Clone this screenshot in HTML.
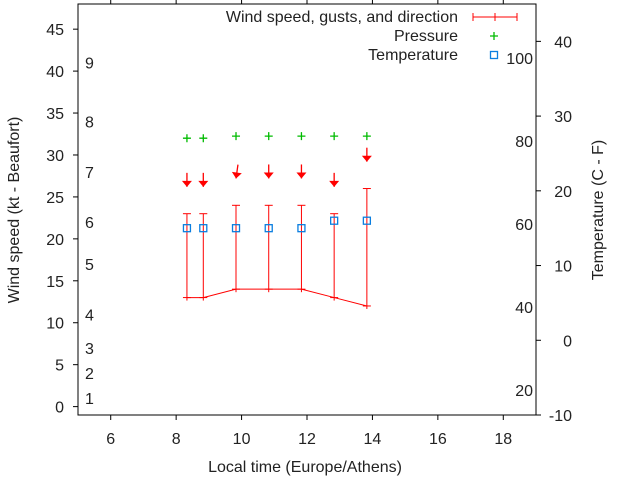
<!DOCTYPE html>
<html><head><meta charset="utf-8"><style>
body{margin:0;background:#fff}
svg{display:block;font-family:"Liberation Sans",sans-serif;font-size:16px;fill:#000}
</style></head><body>
<svg id="c" width="640" height="480" viewBox="0 0 640 480" xmlns="http://www.w3.org/2000/svg"></svg>
<script>
const times=[8.33,8.83,9.83,10.83,11.83,12.83,13.83];
const speeds=[13,13,14,14,14,13,12];
const gusts=[23,23,24,24,24,23,26];
const directions=[0,0,8,0,0,0,0];
const pressure=[32.0,32.0,32.25,32.25,32.25,32.25,32.25];
const temps=[15,15,15,15,15,16,16];
const xTicks=[6,8,10,12,14,16,18];
const yTicks=[0,5,10,15,20,25,30,35,40,45];
const y2Ticks=[-10,0,10,20,30,40];
const beaufort=[1,4,7,11,17,22,28,34,41];
const fahrenheit=[20,40,60,80,100];

const L=78,R=536,T=4,B=415;
const sx=v=>L+(v-5)/(19-5)*(R-L);
const sy=v=>B-(v+1)/(48+1)*(B-T);
const sy2=v=>B-(v+10)/(45+10)*(B-T);
const svg=document.getElementById('c');
const NS='http://www.w3.org/2000/svg';
function mk(tag,attrs,parent,name,text){const e=document.createElementNS(NS,tag);for(const k in attrs)e.setAttribute(k,attrs[k]);


if(text!==undefined)e.textContent=text;(parent||svg).appendChild(e);return e;}

mk('rect',{x:L,y:T,width:R-L,height:B-T,fill:'none',stroke:'#000','stroke-width':1},svg,'plot-border');
xTicks.forEach(v=>{const x=sx(v);
mk('line',{x1:x,y1:B,x2:x,y2:B+5,stroke:'#000'},svg,'x-tick');
mk('line',{x1:x,y1:T,x2:x,y2:T-5,stroke:'#000'},svg,'x-tick-top');
mk('text',{x:x,y:B+29,'text-anchor':'middle',fill:'#222'},svg,'x-tick-label',v);});
yTicks.forEach(v=>{const y=sy(v);
mk('line',{x1:L,y1:y,x2:L-5,y2:y,stroke:'#000'},svg,'y-tick');
mk('text',{x:64,y:y+6,'text-anchor':'end',fill:'#222'},svg,'y-tick-label',v);});
y2Ticks.forEach(v=>{const y=sy2(v);
mk('line',{x1:R,y1:y,x2:R+5,y2:y,stroke:'#000'},svg,'y2-tick');
mk('text',{x:572,y:y+6,'text-anchor':'end',fill:'#222'},svg,'y2-tick-label',v);});
beaufort.forEach((v,i)=>mk('text',{x:85,y:sy(v)+6,fill:'#222'},svg,'beaufort-label',i+1));
fahrenheit.forEach(v=>mk('text',{x:533,y:sy2((v-32)*5/9)+6,'text-anchor':'end',fill:'#222'},svg,'fahrenheit-label',v));

mk('text',{x:305,y:472,'text-anchor':'middle',fill:'#222'},svg,'x-axis-title','Local time (Europe/Athens)');
mk('text',{x:0,y:0,'text-anchor':'middle',fill:'#222',transform:'translate(19,210) rotate(-90)'},svg,'y-axis-title','Wind speed (kt - Beaufort)');
mk('text',{x:0,y:0,'text-anchor':'middle',fill:'#222',transform:'translate(603,210) rotate(-90)'},svg,'y2-axis-title','Temperature (C - F)');

mk('polyline',{points:times.map((t,i)=>sx(t)+','+sy(speeds[i])).join(' '),fill:'none',stroke:'#f00'},svg,'wind-speed-line');
times.forEach((t,i)=>{const x=sx(t);
mk('line',{x1:x,y1:sy(speeds[i])+3,x2:x,y2:sy(gusts[i]),stroke:'#f00'},svg,'gust-errorbar');
mk('line',{x1:x-4,y1:sy(gusts[i]),x2:x+4,y2:sy(gusts[i]),stroke:'#f00'},svg,'gust-cap');
mk('line',{x1:x-4,y1:sy(speeds[i]),x2:x+4,y2:sy(speeds[i]),stroke:'#f00'},svg,'speed-cap');
const tipY=sy(gusts[i]+3.2),len=14;
const g=mk('g',{transform:`translate(${x},${tipY}) rotate(${directions[i]})`},svg,'wind-direction-arrow');
mk('line',{x1:0,y1:-len,x2:0,y2:0,stroke:'#f00','stroke-width':1.3},g,'arrow-shaft');
mk('polygon',{points:'-5,-6 5,-6 0,0',fill:'#f00'},g,'arrow-head');
const py=sy(pressure[i]);
mk('path',{d:`M${x-4},${py}h8M${x},${py-4}v8`,stroke:'#0b0','stroke-width':1.3},svg,'pressure-point');
const ty=sy2(temps[i]);
mk('rect',{x:x-3.5,y:ty-3.5,width:7,height:7,fill:'none',stroke:'#0a7ee0','stroke-width':1.3},svg,'temperature-point');});

mk('text',{x:458,y:22,'text-anchor':'end',fill:'#222'},svg,'legend-wind-label','Wind speed, gusts, and direction');
mk('path',{d:'M473,17H517M473,13v8M517,13v8M495,13v8',stroke:'#f00'},svg,'legend-wind-sample');
mk('text',{x:458,y:41,'text-anchor':'end',fill:'#222'},svg,'legend-pressure-label','Pressure');
mk('path',{d:'M490,36h8M494,32v8',stroke:'#0b0','stroke-width':1.3},svg,'legend-pressure-sample');
mk('text',{x:458,y:60,'text-anchor':'end',fill:'#222'},svg,'legend-temperature-label','Temperature');
mk('rect',{x:490.5,y:51.5,width:7,height:7,fill:'none',stroke:'#0a7ee0','stroke-width':1.3},svg,'legend-temperature-sample');
</script>
</body></html>
